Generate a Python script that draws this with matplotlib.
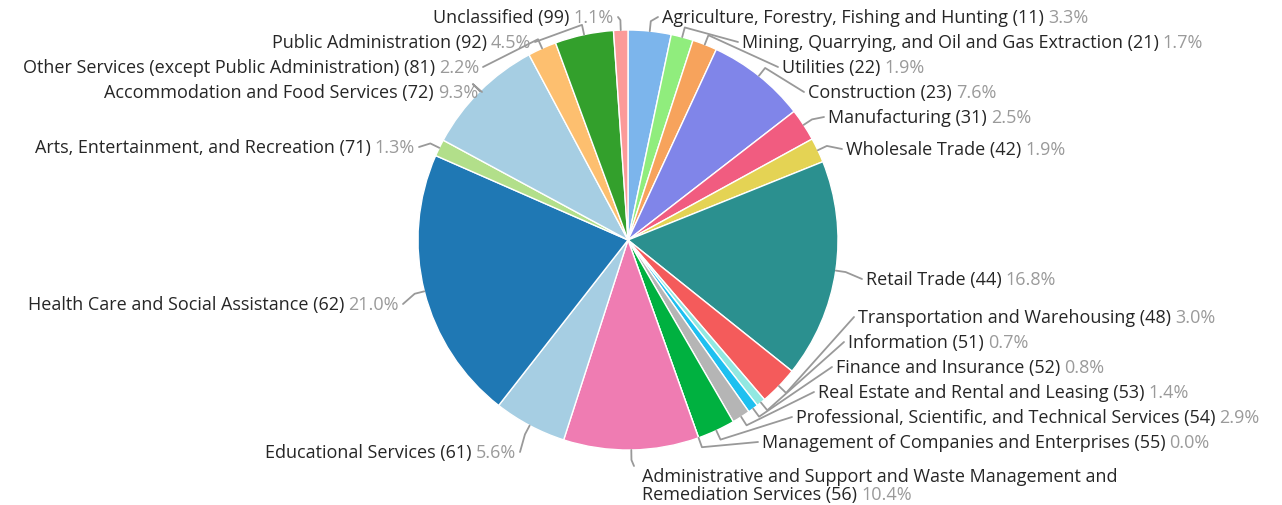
import numpy as np
import matplotlib.pyplot as plt

plt.rcParams['font.family'] = ['Open Sans', 'DejaVu Sans']

# industry sectors, clockwise from 12 o'clock
names = ["Agriculture, Forestry, Fishing and Hunting (11)",
         "Mining, Quarrying, and Oil and Gas Extraction (21)",
         "Utilities (22)",
         "Construction (23)",
         "Manufacturing (31)",
         "Wholesale Trade (42)",
         "Retail Trade (44)",
         "Transportation and Warehousing (48)",
         "Information (51)",
         "Finance and Insurance (52)",
         "Real Estate and Rental and Leasing (53)",
         "Professional, Scientific, and Technical Services (54)",
         "Management of Companies and Enterprises (55)",
         "Administrative and Support and Waste Management and\nRemediation Services (56)",
         "Educational Services (61)",
         "Health Care and Social Assistance (62)",
         "Arts, Entertainment, and Recreation (71)",
         "Accommodation and Food Services (72)",
         "Other Services (except Public Administration) (81)",
         "Public Administration (92)",
         "Unclassified (99)"]
shares = [3.3, 1.7, 1.9, 7.6, 2.5, 1.9, 16.8, 3.0, 0.7, 0.8, 1.4, 2.9, 0.0,
          10.4, 5.6, 21.0, 1.3, 9.3, 2.2, 4.5, 1.1]
colors = ["#7cb5ec", "#90ed7d", "#f7a35c", "#8085e9", "#f15c80", "#e4d354",
          "#2b908f", "#f45b5b", "#91e8e1", "#1ec0f0", "#b5b5b5", "#00b140",
          "#8d4653", "#ef7cb2", "#a6cee3", "#1f78b4", "#b2df8a", "#a6cee3",
          "#fdbf6f", "#33a02c", "#fb9a99"]

# label anchor (pixel x, pixel y from top) and side
label_pos = [(662, 18, 'R'), (742, 43, 'R'), (782, 68, 'R'), (808, 93, 'R'),
             (828, 118, 'R'), (846, 150, 'R'), (866, 280, 'R'), (858, 318, 'R'),
             (848, 343, 'R'), (836, 368, 'R'), (818, 393, 'R'), (796, 418, 'R'),
             (762, 443, 'R'), (642, 477, 'R'), (516, 453, 'L'), (399, 305, 'L'),
             (415, 148, 'L'), (478, 93, 'L'), (479, 68, 'L'), (531, 43, 'L'),
             (614, 18, 'L')]

W, H = 1282, 506
fig = plt.figure(figsize=(W / 100, H / 100), dpi=100)
ax = fig.add_axes([0, 0, 1, 1])

cx, cy, r = 628, H - 241, 210
wedges, _ = ax.pie(shares, colors=colors, startangle=90, counterclock=False,
                   center=(cx, cy), radius=r, frame=True,
                   wedgeprops=dict(edgecolor='white', linewidth=1))
ax.set_xlim(0, W)
ax.set_ylim(0, H)
ax.set_aspect('equal')
ax.axis('off')

renderer = fig.canvas.get_renderer()
fs = 13
name_col = '#262626'
pct_col = '#9a9a9a'
for w, name, pct, (lx, ly, side) in zip(wedges, names, shares, label_pos):
    mid = np.deg2rad((w.theta1 + w.theta2) / 2)
    x0, y0 = cx + r * np.cos(mid), cy + r * np.sin(mid)
    x1, y1 = cx + (r + 10) * np.cos(mid), cy + (r + 10) * np.sin(mid)
    ty = H - ly
    ex = lx - 4 if side == 'R' else lx + 4
    ety = ty
    if '\n' in name:
        ex, ety = lx - 8, ty + 10
    ax.plot([x0, x1, ex], [y0, y1, ety], color='#999999', lw=1.3,
            solid_capstyle='round', zorder=1)
    ptxt = f"{pct:.1f}%"
    if side == 'R':
        lines = name.split('\n')
        for k, line in enumerate(lines):
            yy = ty - k * 18
            t = ax.text(lx, yy, line, ha='left', va='center', fontsize=fs,
                        color=name_col)
        bb = t.get_window_extent(renderer)
        ax.text(bb.x1 + 4, yy, ptxt, ha='left', va='center', fontsize=fs,
                color=pct_col)
    else:
        p = ax.text(lx, ty, ptxt, ha='right', va='center', fontsize=fs,
                    color=pct_col)
        pw = p.get_window_extent(renderer).width
        ax.text(lx - pw - 4, ty, name, ha='right', va='center', fontsize=fs,
                color=name_col)

fig.savefig('out.png', dpi=100)
